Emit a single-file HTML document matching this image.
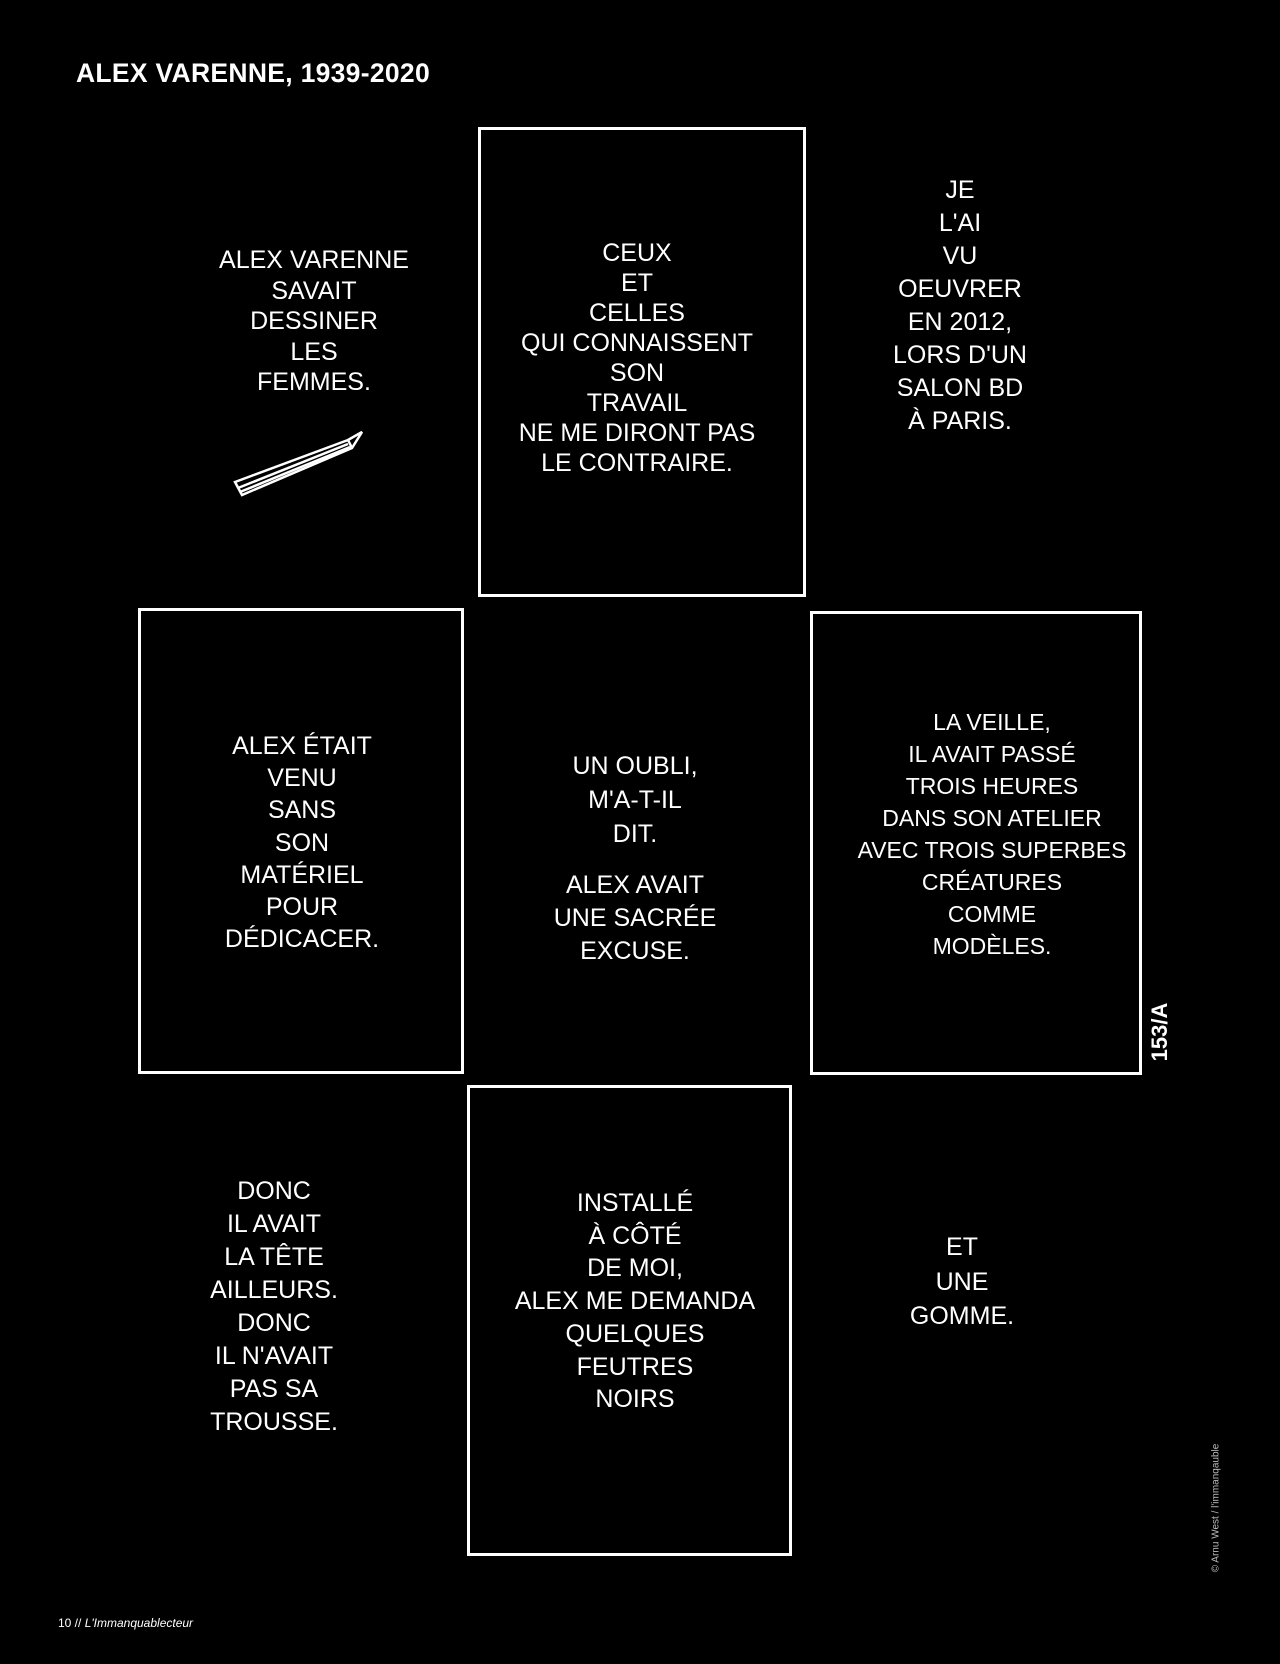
<!DOCTYPE html>
<html><head><meta charset="utf-8"><style>
html,body{margin:0;padding:0;background:#000;}
body{width:1280px;height:1664px;position:relative;overflow:hidden;font-family:"Liberation Sans",sans-serif;color:#fff;}
.t{position:absolute;text-align:center;font-size:25px;white-space:nowrap;transform:translateX(-50%);letter-spacing:0;}
.p{position:absolute;border:3px solid #fff;box-sizing:border-box;}
</style></head><body>
<div style="position:absolute;left:76px;top:58px;font-size:26.5px;font-weight:bold;letter-spacing:0.3px;">ALEX VARENNE, 1939-2020</div>

<div class="p" style="left:478px;top:127px;width:328px;height:470px;"></div>
<div class="p" style="left:138px;top:608px;width:326px;height:466px;"></div>
<div class="p" style="left:810px;top:611px;width:332px;height:464px;"></div>
<div class="p" style="left:467px;top:1085px;width:325px;height:471px;"></div>

<div class="t" style="left:314px;top:245px;line-height:30.5px;">ALEX VARENNE<br>SAVAIT<br>DESSINER<br>LES<br>FEMMES.</div>
<svg style="position:absolute;left:230px;top:420px" width="135" height="80"><g fill="none" stroke="#fff" stroke-width="2.5"><path d="M5 62 L118 20 L132 12 L122 28 L12 75 Z"/><path d="M8 68 L118 24"/><path d="M10 72 L120 27"/><path d="M118 20 L122 28"/></g></svg>

<div class="t" style="left:637px;top:238px;line-height:30px;">CEUX<br>ET<br>CELLES<br>QUI CONNAISSENT<br>SON<br>TRAVAIL<br>NE ME DIRONT PAS<br>LE CONTRAIRE.</div>

<div class="t" style="left:960px;top:174px;line-height:33px;">JE<br>L'AI<br>VU<br>OEUVRER<br>EN 2012,<br>LORS D'UN<br>SALON BD<br>À PARIS.</div>

<div class="t" style="left:302px;top:730px;line-height:32.2px;">ALEX ÉTAIT<br>VENU<br>SANS<br>SON<br>MATÉRIEL<br>POUR<br>DÉDICACER.</div>

<div class="t" style="left:635px;top:749px;line-height:34px;">UN OUBLI,<br>M'A-T-IL<br>DIT.</div>
<div class="t" style="left:635px;top:869px;line-height:33px;">ALEX AVAIT<br>UNE SACRÉE<br>EXCUSE.</div>

<div class="t" style="left:992px;top:706px;line-height:32px;font-size:23px;">LA VEILLE,<br>IL AVAIT PASSÉ<br>TROIS HEURES<br>DANS SON ATELIER<br>AVEC TROIS SUPERBES<br>CRÉATURES<br>COMME<br>MODÈLES.</div>

<div class="t" style="left:274px;top:1175px;line-height:33px;">DONC<br>IL AVAIT<br>LA TÊTE<br>AILLEURS.<br>DONC<br>IL N'AVAIT<br>PAS SA<br>TROUSSE.</div>

<div class="t" style="left:635px;top:1187px;line-height:32.7px;">INSTALLÉ<br>À CÔTÉ<br>DE MOI,<br>ALEX ME DEMANDA<br>QUELQUES<br>FEUTRES<br>NOIRS</div>

<div class="t" style="left:962px;top:1230px;line-height:34.5px;">ET<br>UNE<br>GOMME.</div>

<div style="position:absolute;left:1160px;top:1032px;transform:translate(-50%,-50%) rotate(-90deg);font-size:22px;font-weight:bold;white-space:nowrap;">153/A</div>

<div style="position:absolute;left:58px;top:1616px;font-size:12px;">10 // <i>L'Immanquablecteur</i></div>
<div style="position:absolute;left:1216px;top:1508px;transform:translate(-50%,-50%) rotate(-90deg);font-size:10px;color:#bbb;white-space:nowrap;">© Arnu West / l'immanqauble</div>
</body></html>
